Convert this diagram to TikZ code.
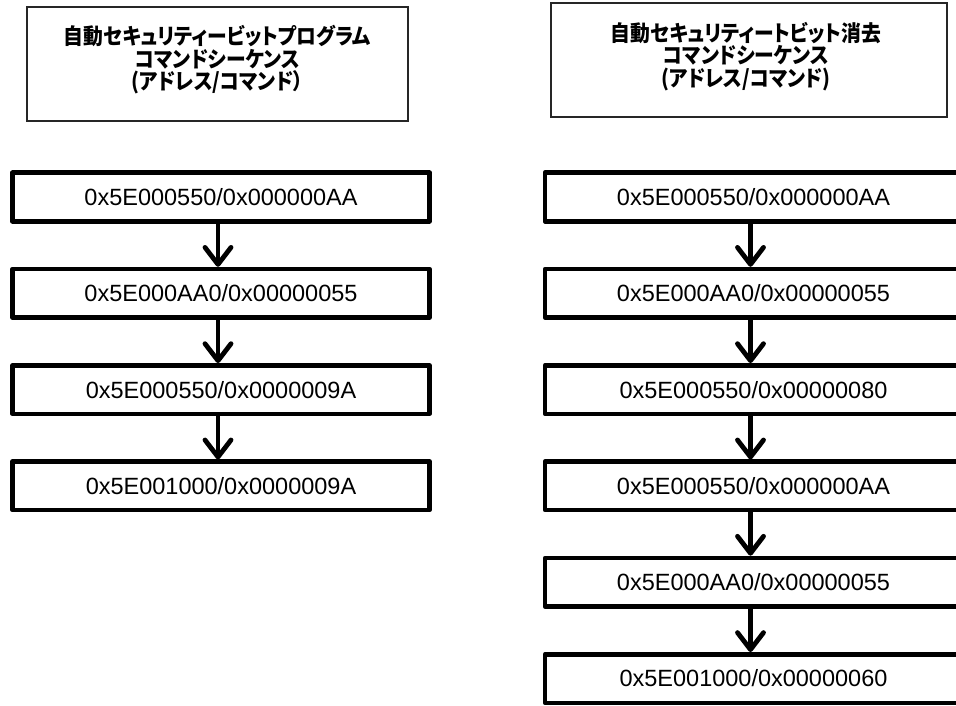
\documentclass[tikz,border=0pt]{standalone}
\usepackage{fontspec}
\setmainfont{Liberation Sans}
\newfontfamily\cjk{Noto Sans CJK JP}[RawFeature=+palt, FakeStretch=0.9]
\usetikzlibrary{arrows.meta}
\tikzset{
  cmdbox/.style={draw=black, line width=4.5pt, line join=round, rectangle,
    minimum width=417pt, minimum height=48.5pt, inner sep=0pt,
    font=\fontsize{23.5}{28}\selectfont},
  headbox/.style={draw=black!85, line width=1.3pt, rectangle, inner sep=0pt},
  headtext/.style={inner sep=0pt, align=center,
    font=\cjk\bfseries\fontsize{22}{22.5}\selectfont},
  flow/.style={line width=4.8pt, -{Straight Barb[length=17pt, width=26pt, round]}}
}
\begin{document}
\begin{tikzpicture}[x=1pt, y=-1pt]
\useasboundingbox (0,0) rectangle (956,706);
% headers
\node[headbox, minimum width=381pt, minimum height=114pt] (hl) at (217.5,64) {};
\node[headtext] (hlt) at (217.5,60)
  {自動セキュリティービットプログラム\\コマンドシーケンス\\(アドレス/コマンド）};
\node[headbox, minimum width=396pt, minimum height=114pt] (hr) at (749,60) {};
\node[headtext] (hrt) at (746,56.5)
  {自動セキュリティートビット消去\\コマンドシーケンス\\(アドレス/コマンド)};
% left column
\node[cmdbox] (l1) at (221,197)   {0x5E000550/0x000000AA};
\node[cmdbox] (l2) at (221,293.3) {0x5E000AA0/0x00000055};
\node[cmdbox] (l3) at (221,389.6) {0x5E000550/0x0000009A};
\node[cmdbox] (l4) at (221,485.9) {0x5E001000/0x0000009A};
% right column
\node[cmdbox] (r1) at (753.5,197)   {0x5E000550/0x000000AA};
\node[cmdbox] (r2) at (753.5,293.3) {0x5E000AA0/0x00000055};
\node[cmdbox] (r3) at (753.5,389.6) {0x5E000550/0x00000080};
\node[cmdbox] (r4) at (753.5,485.9) {0x5E000550/0x000000AA};
\node[cmdbox] (r5) at (753.5,582.2) {0x5E000AA0/0x00000055};
\node[cmdbox] (r6) at (753.5,678.5) {0x5E001000/0x00000060};
% arrows
\foreach \a/\b in {l1/l2,l2/l3,l3/l4,r1/r2,r2/r3,r3/r4,r4/r5,r5/r6}
  \draw[flow] ([xshift=-3pt]\a.south) -- ([xshift=-3pt]\b.north);
\end{tikzpicture}
\end{document}
